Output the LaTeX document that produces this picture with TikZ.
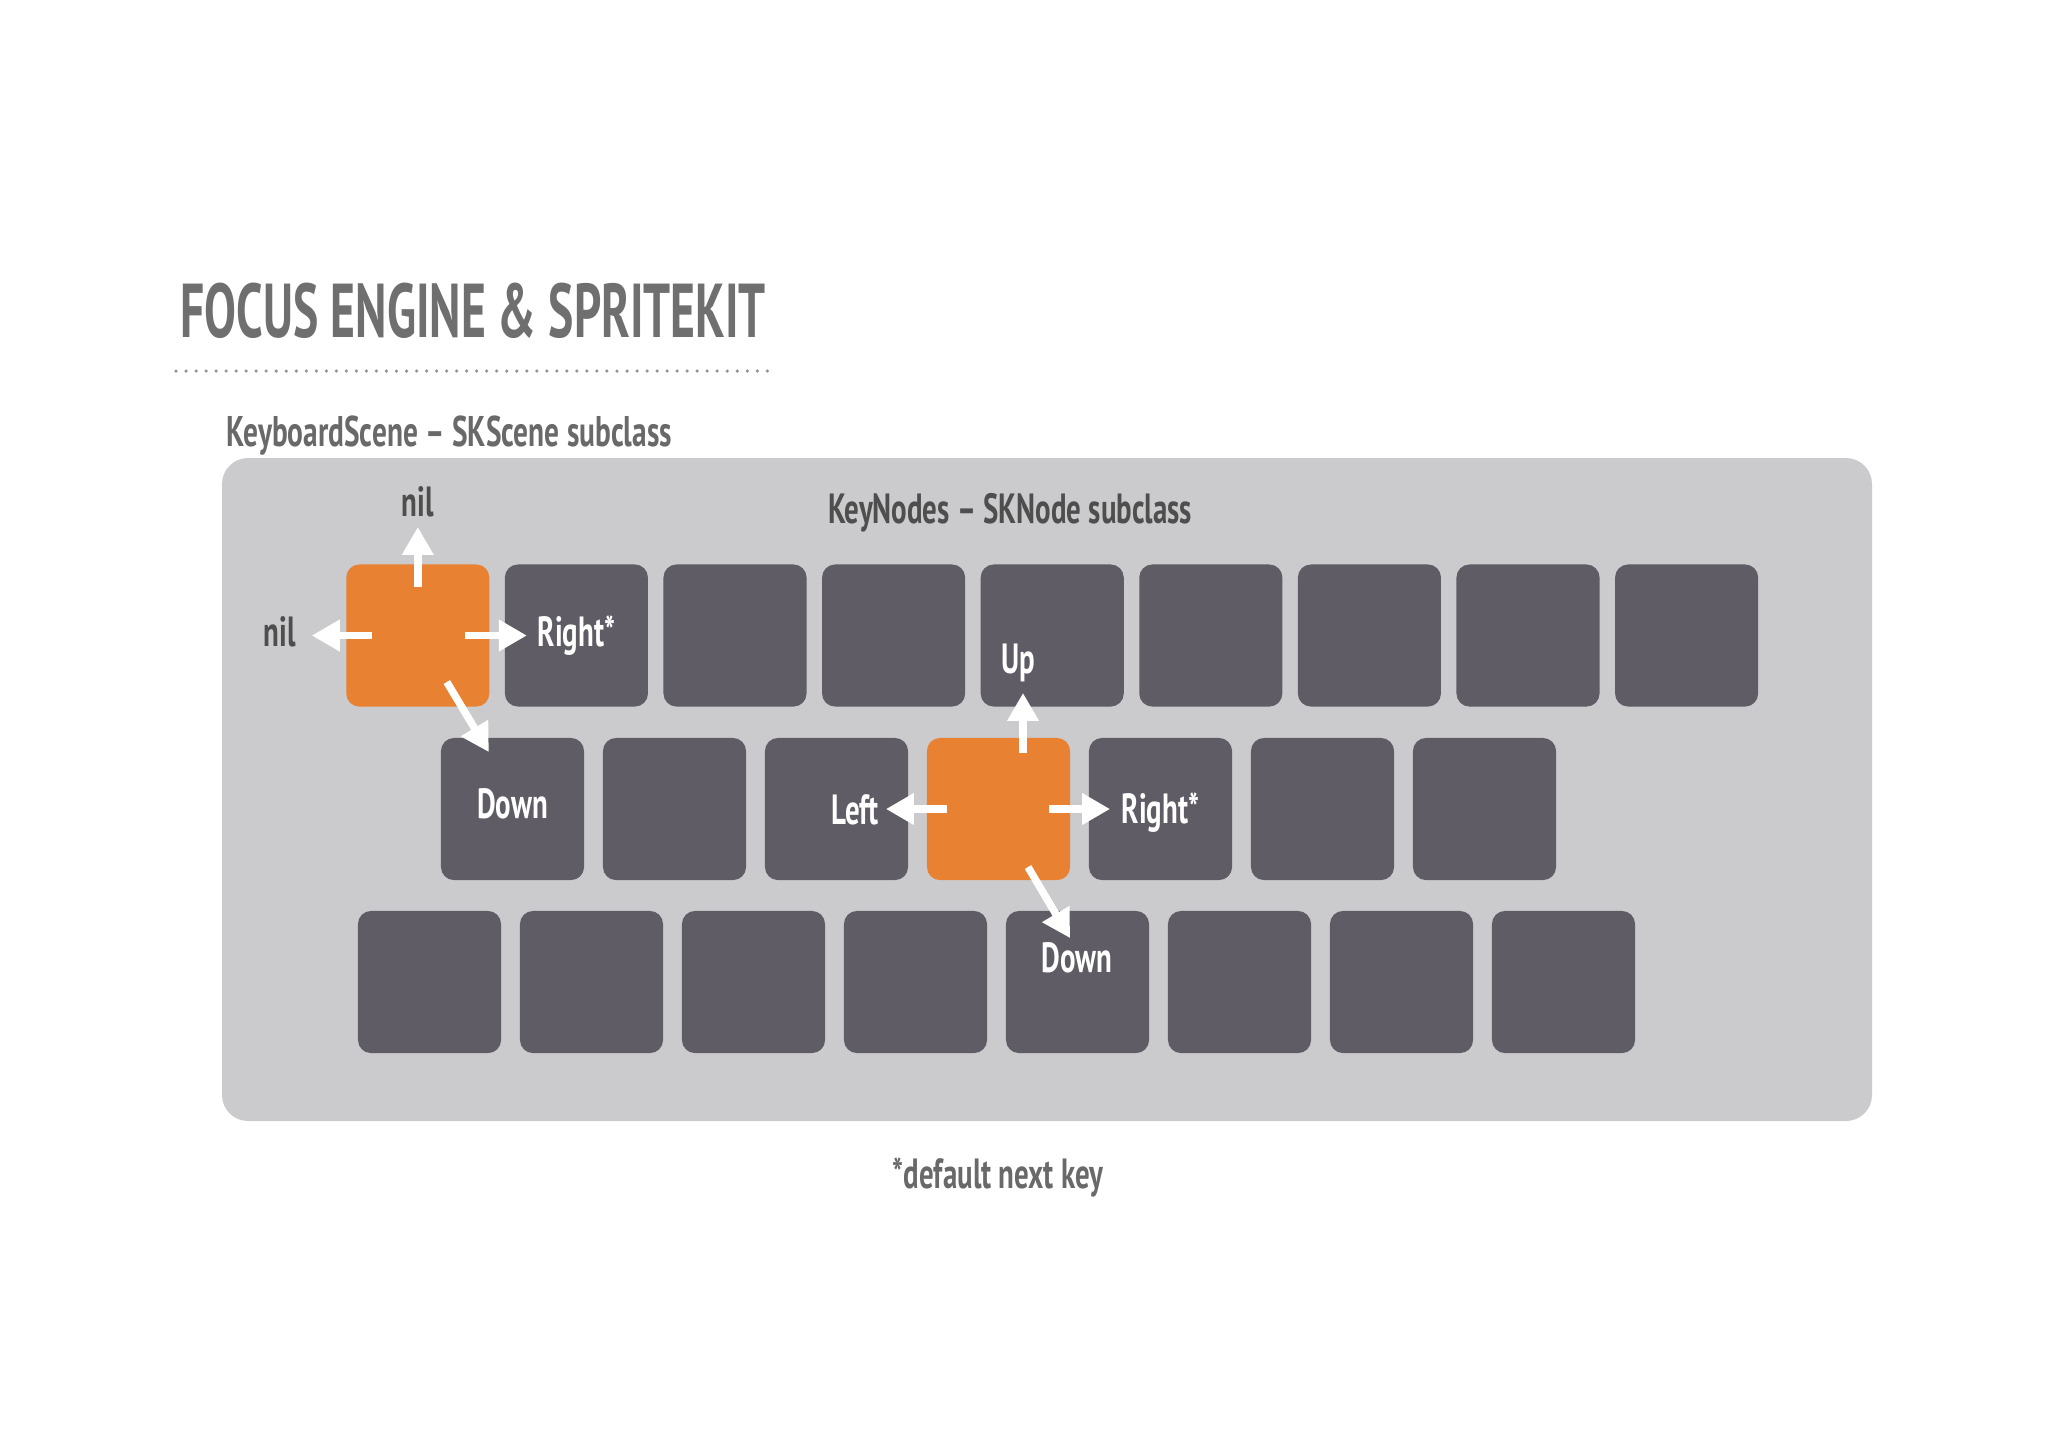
\documentclass[tikz,border=0pt]{standalone}
\usepackage{fontspec}
\setmainfont{PT Sans}[FakeStretch=0.685]
\newfontfamily\titlefont{PT Sans}[FakeStretch=0.625]
\usetikzlibrary{positioning,arrows.meta}

\definecolor{panelgray}{HTML}{CBCBCD}
\definecolor{keygray}{HTML}{5F5C66}
\definecolor{focusorange}{HTML}{E88131}
\definecolor{titlegray}{HTML}{6F6F6F}
\definecolor{labelgray}{HTML}{4E4E4E}
\definecolor{dotgray}{HTML}{929292}

\begin{document}
\begin{tikzpicture}[x=0.01cm, y=-0.01cm,
    key/.style={fill=keygray, rounded corners=0.13cm, minimum width=1.43cm, minimum height=1.42cm, inner sep=0pt},
    focuskey/.style={key, fill=focusorange},
    keylabel/.style={text=white, font=\bfseries\fontsize{12}{14}\selectfont},
    navlabel/.style={text=labelgray, font=\bfseries\fontsize{12}{14}\selectfont},
    navarrow/.style={-{Triangle[length=0.28cm, width=0.30cm]}, white, line width=0.075cm}]
    \useasboundingbox (0,0) rectangle (2048,1447);

    % Title and rule
    \node[anchor=base west, inner sep=0pt, text=titlegray, font=\titlefont\bfseries\fontsize{21.7}{24}\selectfont] (title) at (180,337) {FOCUS ENGINE \& SPRITEKIT};
    \draw[dotgray, line width=1pt, line cap=round, dash pattern=on 0pt off 2.85pt] (176,371) -- (774,371);
    \node[anchor=base west, inner sep=0pt, text=labelgray!85, font=\bfseries\fontsize{12.2}{14}\selectfont] (scene) at (226,446) {KeyboardScene -- SKScene subclass};

    % Scene panel
    \fill[panelgray, rounded corners=0.26cm] (222,458) rectangle (1872,1121);
    \node[navlabel] (keynodes) at (1010,513) {KeyNodes -- SKNode subclass};

    % Row 1
    \node[focuskey] (f1) at (417.8,635.5) {};
    \foreach \i in {2,...,9}
        \node[key] (k1-\i) at ({417.8+158.6*(\i-1)},635.5) {};

    % Row 2
    \node[focuskey] (f2) at (998.5,809) {};
    \foreach \i in {1,2,3,5,6,7}
        \node[key] (k2-\i) at ({512.5+162*(\i-1)},809) {};

    % Row 3
    \foreach \i in {1,...,8}
        \node[key] (k3-\i) at ({429.5+162*(\i-1)},982) {};

    % Focus moves from the first key
    \node[navlabel] (nilup) at (418,502) {nil};
    \node[navlabel] (nilleft) at (280,632) {nil};
    \node[keylabel] (right1) at (k1-2) {Right*};
    \node[keylabel] (down1) at ([yshift=0.05cm]k2-1.center) {Down};
    \draw[navarrow] ([yshift=0.485cm]f1.center) -- ([yshift=1.085cm]f1.center);
    \draw[navarrow] ([xshift=-0.46cm]f1.center) -- ([xshift=-1.06cm]f1.center);
    \draw[navarrow] ([xshift=0.47cm]f1.center) -- ([xshift=1.09cm]f1.center);
    \draw[navarrow] ([xshift=0.29cm,yshift=-0.465cm]f1.center) -- ([xshift=0.71cm,yshift=-1.165cm]f1.center);

    % Focus moves from the middle key
    \node[keylabel] (up2) at (1018,663) {Up};
    \node[keylabel] (left2) at (855,810) {Left};
    \node[keylabel] (right2) at ([yshift=-0.04cm]k2-5.center) {Right*};
    \node[keylabel] (down2) at (1077,958) {Down};
    \draw[navarrow] ([xshift=0.245cm,yshift=0.56cm]f2.center) -- ([xshift=0.245cm,yshift=1.16cm]f2.center);
    \draw[navarrow] ([xshift=-0.515cm]f2.center) -- ([xshift=-1.125cm]f2.center);
    \draw[navarrow] ([xshift=0.505cm]f2.center) -- ([xshift=1.115cm]f2.center);
    \draw[navarrow] ([xshift=0.295cm,yshift=-0.58cm]f2.center) -- ([xshift=0.715cm,yshift=-1.29cm]f2.center);

    % Footnote
    \node[navlabel, text=labelgray!85] (note) at (998,1177) {*default next key};
\end{tikzpicture}
\end{document}
